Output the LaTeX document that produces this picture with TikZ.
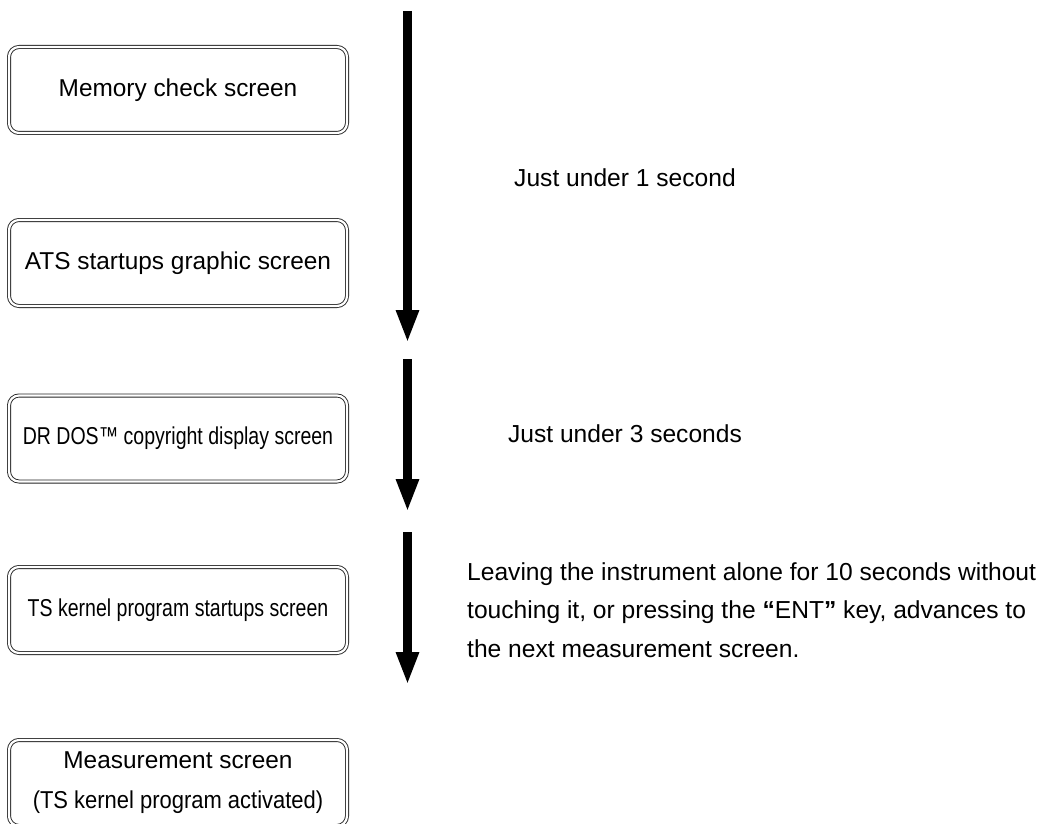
\documentclass[tikz,border=0pt]{standalone}
\usepackage{fontspec}
\setmainfont{Liberation Sans}
\usetikzlibrary{arrows.meta}
\begin{document}
\begin{tikzpicture}[x=1pt,y=-1pt,
  screenbox/.style={draw=black!85, line width=0.9pt, double=white, double distance=2.2pt,
    rounded corners=10pt, minimum width=338pt, minimum height=86pt, inner sep=0pt,
    align=center, font=\fontsize{24.4}{40}\selectfont},
  timearrow/.style={line width=9pt, -{Triangle[length=33pt,width=21pt]}},
  note/.style={font=\fontsize{24.6}{38.5}\selectfont, inner sep=0pt}]
\useasboundingbox (0,0) rectangle (1050,824);
\clip (0,0) rectangle (1050,824);
\fill[white] (0,0) rectangle (1050,824);
% screens
\node[screenbox] (mem) at (178,90) {Memory check screen};
\node[screenbox] (ats) at (178,263) {ATS startups graphic screen};
\node[screenbox] (dos) at (178,438.5) {\scalebox{0.8}[1]{DR DOS™ copyright display screen}};
\node[screenbox] (ker) at (178,610) {\scalebox{0.8}[1]{TS kernel program startups screen}};
\node[screenbox] (meas) at (178,783) {Measurement screen\\\scalebox{0.9}[1]{(TS kernel program activated)}};
% timeline arrows
\coordinate (a1s) at (407.5,11);
\coordinate (a1e) at (407.5,343);
\coordinate (a2s) at (407.5,359);
\coordinate (a2e) at (407.5,512);
\coordinate (a3s) at (407.5,532);
\coordinate (a3e) at (407.5,685);
\draw[timearrow] (a1s) -- (a1e);
\draw[timearrow] (a2s) -- (a2e);
\draw[timearrow] (a3s) -- (a3e);
% notes
\node[note, anchor=base] (n1) at (625,186) {Just under 1 second};
\node[note, anchor=base] (n2) at (625,442) {Just under 3 seconds};
\node[note, anchor=base west, align=left] (n3) at (467,657)
  {Leaving the instrument alone for 10 seconds without\\
   touching it, or pressing the {\bfseries “}ENT{\bfseries ”} key, advances to\\
   the next measurement screen.};
\end{tikzpicture}
\end{document}
